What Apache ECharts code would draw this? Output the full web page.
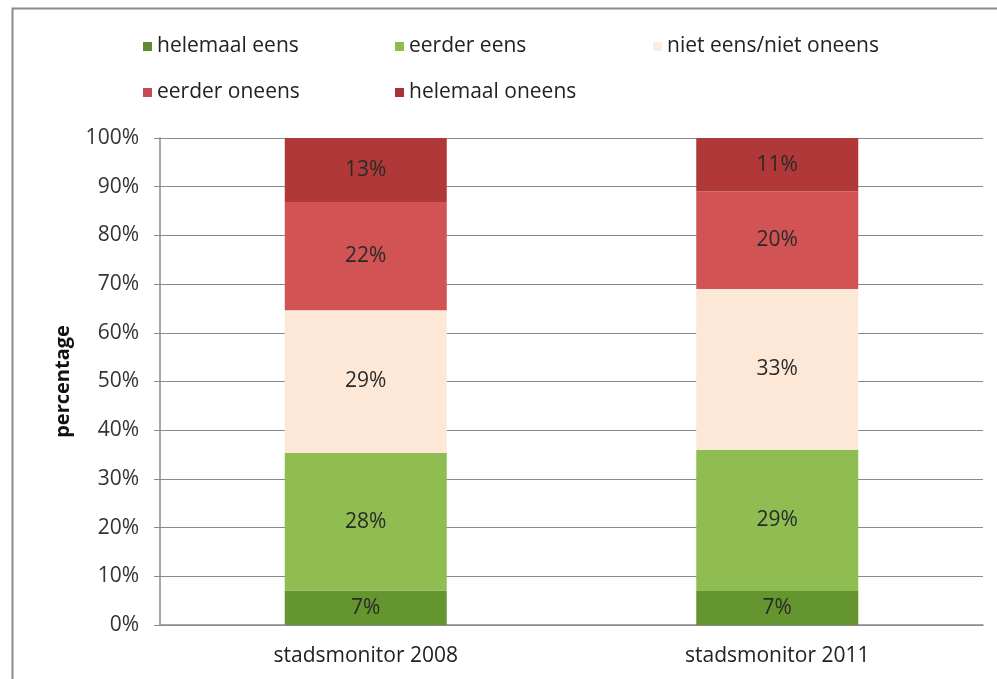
<!DOCTYPE html>
<html><head><meta charset="utf-8">
<script src="https://cdn.jsdelivr.net/npm/echarts@6/dist/echarts.min.js"></script>
<style>html,body{margin:0;padding:0;background:#fff}#c{width:997px;height:679px}</style>
</head><body><div id="c"></div>
<script>
var categories = ['stadsmonitor 2008', 'stadsmonitor 2011'];
var seriesNames = ['helemaal eens', 'eerder eens', 'niet eens/niet oneens', 'eerder oneens', 'helemaal oneens'];
var helemaalEens = [7, 7];
var eerderEens = [28, 29];
var nietEens = [29, 33];
var eerderOneens = [22, 20];
var helemaalOneens = [13, 11];
var yTicks = ['0%','10%','20%','30%','40%','50%','60%','70%','80%','90%','100%'];

var raw = [helemaalEens, eerderEens, nietEens, eerderOneens, helemaalOneens];
var colors = ['#64952e', '#8fbd52', '#fde8d8', '#d25354', '#b03838'];
var legendColors = ['#5f8a30', '#8cbc4a', '#fbeee2', '#c84a55', '#a8323a'];
var totals = categories.map(function(_, i){ return raw.reduce(function(s, a){ return s + a[i]; }, 0); });

var FONT = 'Open Sans';
var series = raw.map(function(arr, k){
  return {
    name: seriesNames[k], type: 'bar', stack: 'all', barWidth: 162,
    itemStyle: { color: colors[k] },
    label: { show: true, position: 'inside', fontFamily: FONT, fontSize: 21, color: '#2a2a2a',
      formatter: function(p){ return arr[p.dataIndex] + '%'; } },
    data: arr.map(function(v, i){ return v / totals[i] * 100; })
  };
});

var legendPos = [[138, 31], [390, 31], [648, 31], [138, 77], [390, 77]];
var legends = seriesNames.map(function(n, k){
  return { data: [{ name: n, itemStyle: { color: legendColors[k] } }], left: legendPos[k][0], top: legendPos[k][1],
    icon: 'rect', itemWidth: 9, itemHeight: 9, itemGap: 6,
    textStyle: { fontFamily: FONT, fontSize: 21, color: '#222' } };
});

var chart = echarts.init(document.getElementById('c'));
chart.setOption({
  animation: false,
  graphic: [{ type: 'rect', left: 10, top: 6, shape: { width: 1200, height: 900 }, style: { fill: 'none', stroke: '#8a8a8a', lineWidth: 2 }, z: 100 }],
  legend: legends,
  grid: { left: 160, right: 14, top: 138, bottom: 54 },
  xAxis: { type: 'category', data: categories,
    axisLine: { lineStyle: { color: '#8a8a8a', width: 1.5 } }, axisTick: { show: false },
    axisLabel: { fontFamily: FONT, fontSize: 21, color: '#222', margin: 21 } },
  yAxis: { type: 'value', min: 0, max: 100, interval: 10,
    name: 'percentage', nameLocation: 'middle', nameGap: 87,
    nameTextStyle: { fontFamily: FONT, fontSize: 20, fontWeight: 'bold', color: '#111' },
    axisLine: { show: true, lineStyle: { color: '#8a8a8a', width: 1.5 } },
    axisTick: { show: true, length: 6, lineStyle: { color: '#8a8a8a' } },
    splitLine: { lineStyle: { color: '#8a8a8a', width: 1.2 } },
    axisLabel: { fontFamily: FONT, fontSize: 21, color: '#333', margin: 21,
      formatter: function(v){ return yTicks[Math.round(v / 10)]; } } },
  series: series
});
</script></body></html>
